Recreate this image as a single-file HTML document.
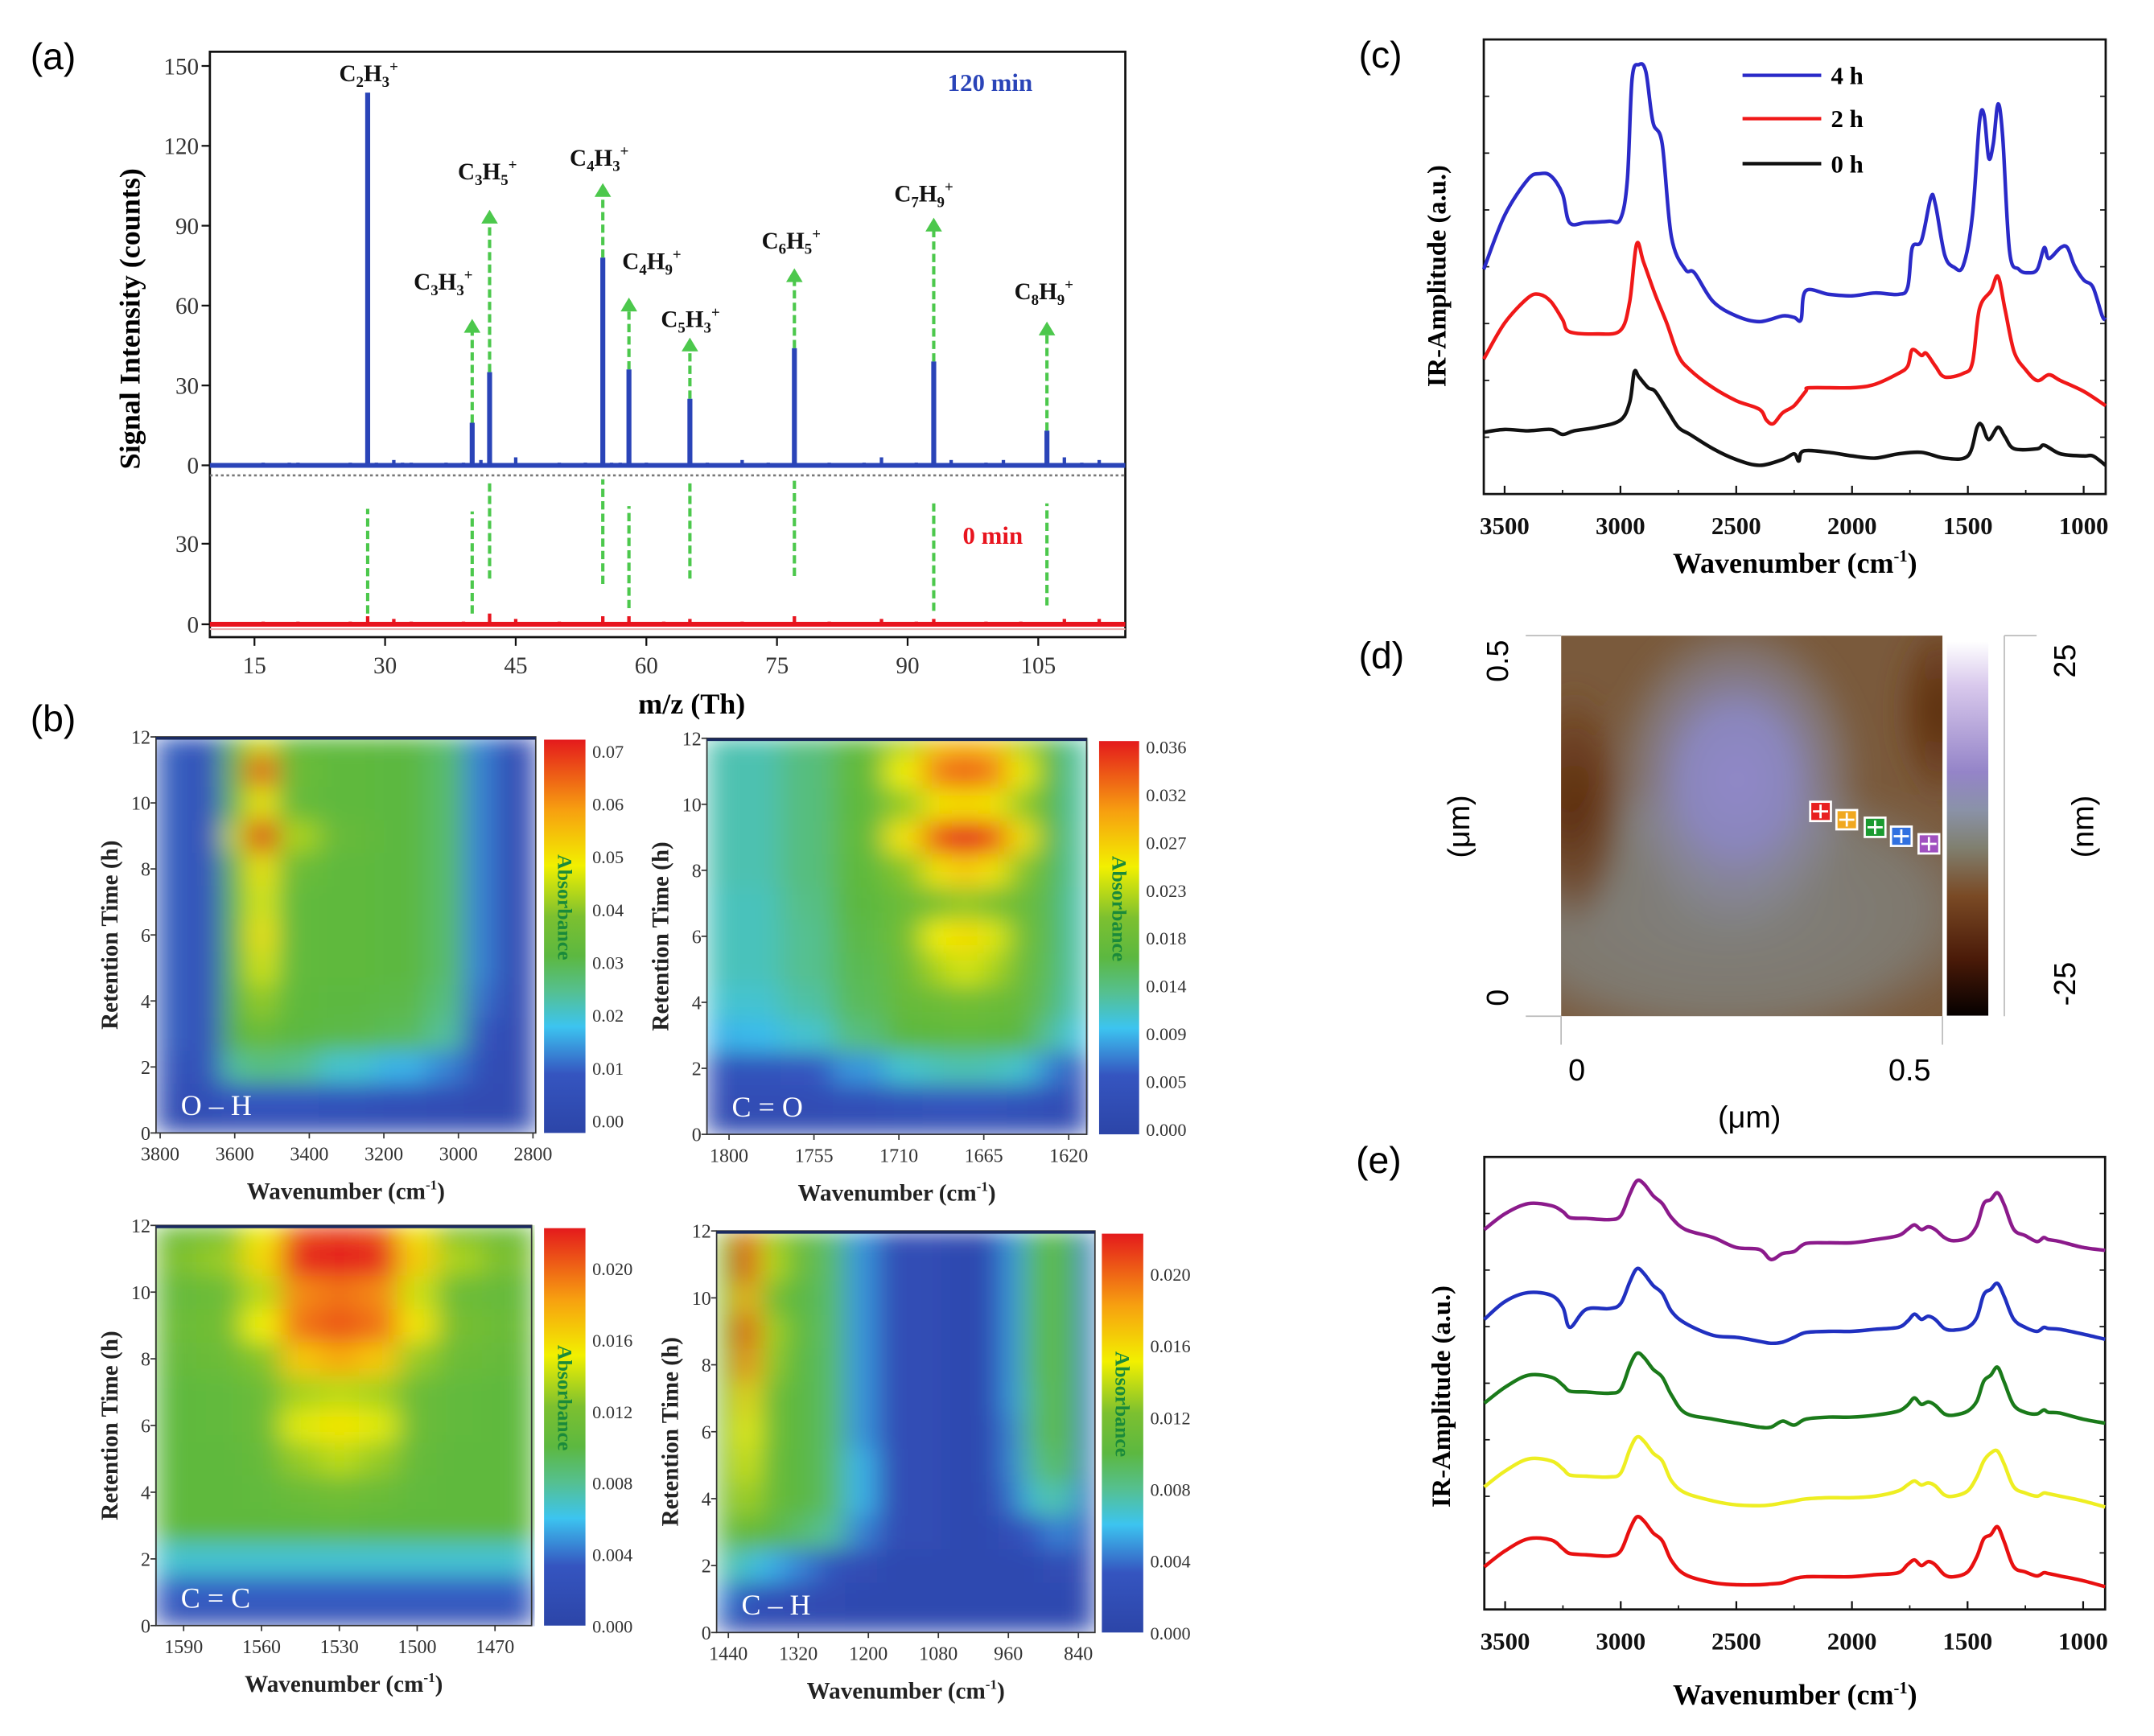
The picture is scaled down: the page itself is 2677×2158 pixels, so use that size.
<!DOCTYPE html>
<html><head><meta charset="utf-8"><title>Figure</title>
<style>
html,body{margin:0;padding:0;background:#fff;}
svg{display:block;}
.serif{font-family:"Liberation Serif",serif;}
.sans{font-family:"Liberation Sans",sans-serif;}
.b{font-weight:bold;}
</style></head>
<body>
<svg id="fig" xmlns="http://www.w3.org/2000/svg" width="2677" height="2158" viewBox="0 0 1560 1258" preserveAspectRatio="none">
<defs>
  <filter id="hblur" x="0" y="0" width="1" height="1" filterUnits="objectBoundingBox">
    <feGaussianBlur stdDeviation="10 8" edgeMode="duplicate"/>
  </filter>
  <linearGradient id="jet" x1="0" y1="1" x2="0" y2="0">
    <stop offset="0" stop-color="#2c45a8"/><stop offset="0.15" stop-color="#3555c0"/>
    <stop offset="0.27" stop-color="#3cc4f0"/><stop offset="0.36" stop-color="#55c090"/>
    <stop offset="0.45" stop-color="#5cb840"/><stop offset="0.55" stop-color="#7cc030"/>
    <stop offset="0.68" stop-color="#f2f000"/><stop offset="0.82" stop-color="#f7a010"/>
    <stop offset="1" stop-color="#e41a1c"/>
  </linearGradient>
  <linearGradient id="afm" x1="0" y1="0" x2="0" y2="1">
    <stop offset="0" stop-color="#ffffff"/><stop offset="0.12" stop-color="#d8c8ec"/>
    <stop offset="0.35" stop-color="#9484c8"/><stop offset="0.45" stop-color="#8a92a8"/>
    <stop offset="0.55" stop-color="#808070"/><stop offset="0.68" stop-color="#7a4a25"/>
    <stop offset="0.85" stop-color="#4a1a08"/><stop offset="1" stop-color="#050000"/>
  </linearGradient>
  <radialGradient id="blob" cx="0.5" cy="0.5" r="0.5">
    <stop offset="0" stop-color="#9088c8"/><stop offset="0.4" stop-color="#8a86bc"/>
    <stop offset="0.75" stop-color="#88889a" stop-opacity="0.55"/><stop offset="1" stop-color="#808080" stop-opacity="0"/>
  </radialGradient>
  <radialGradient id="dark" cx="0.5" cy="0.5" r="0.5">
    <stop offset="0" stop-color="#5a2a0e"/><stop offset="0.6" stop-color="#6a3a18" stop-opacity="0.7"/><stop offset="1" stop-color="#6e4020" stop-opacity="0"/>
  </radialGradient>
  <radialGradient id="gray" cx="0.5" cy="0.5" r="0.5">
    <stop offset="0" stop-color="#80807e"/><stop offset="0.7" stop-color="#80807a" stop-opacity="0.8"/><stop offset="1" stop-color="#808080" stop-opacity="0"/>
  </radialGradient>
  <filter id="soft"><feGaussianBlur stdDeviation="8"/></filter>
</defs>

<text class="sans" x="22" y="50" font-size="27">(a)</text>
<text class="sans" x="22" y="530" font-size="27">(b)</text>
<text class="sans" x="984" y="49" font-size="27">(c)</text>
<text class="sans" x="984" y="484" font-size="27">(d)</text>
<text class="sans" x="982" y="850" font-size="27">(e)</text>

<g id="pa">
  <rect x="152" y="37.5" width="663" height="424.2" fill="none" stroke="#111" stroke-width="1.6"/>
  <text class="serif b" font-size="21" transform="translate(101,231) rotate(-90)" text-anchor="middle">Signal Intensity (counts)</text>
  <text class="serif b" font-size="21" x="501" y="517" text-anchor="middle">m/z (Th)</text>
  <text class="serif b" font-size="18" fill="#2a44b8" x="717" y="66" text-anchor="middle">120 min</text>
  <text class="serif b" font-size="18" fill="#e8141e" x="719" y="394" text-anchor="middle">0 min</text>
  <g class="serif b" font-size="17" text-anchor="middle" fill="#111">
    <text x="267" y="59">C<tspan font-size="11" dy="4">2</tspan><tspan dy="-4">H</tspan><tspan font-size="11" dy="4">3</tspan><tspan font-size="11" dy="-11">+</tspan></text>
    <text x="321" y="210">C<tspan font-size="11" dy="4">3</tspan><tspan dy="-4">H</tspan><tspan font-size="11" dy="4">3</tspan><tspan font-size="11" dy="-11">+</tspan></text>
    <text x="353" y="130">C<tspan font-size="11" dy="4">3</tspan><tspan dy="-4">H</tspan><tspan font-size="11" dy="4">5</tspan><tspan font-size="11" dy="-11">+</tspan></text>
    <text x="434" y="120">C<tspan font-size="11" dy="4">4</tspan><tspan dy="-4">H</tspan><tspan font-size="11" dy="4">3</tspan><tspan font-size="11" dy="-11">+</tspan></text>
    <text x="472" y="195">C<tspan font-size="11" dy="4">4</tspan><tspan dy="-4">H</tspan><tspan font-size="11" dy="4">9</tspan><tspan font-size="11" dy="-11">+</tspan></text>
    <text x="500" y="237">C<tspan font-size="11" dy="4">5</tspan><tspan dy="-4">H</tspan><tspan font-size="11" dy="4">3</tspan><tspan font-size="11" dy="-11">+</tspan></text>
    <text x="573" y="180">C<tspan font-size="11" dy="4">6</tspan><tspan dy="-4">H</tspan><tspan font-size="11" dy="4">5</tspan><tspan font-size="11" dy="-11">+</tspan></text>
    <text x="669" y="146">C<tspan font-size="11" dy="4">7</tspan><tspan dy="-4">H</tspan><tspan font-size="11" dy="4">9</tspan><tspan font-size="11" dy="-11">+</tspan></text>
    <text x="756" y="217">C<tspan font-size="11" dy="4">8</tspan><tspan dy="-4">H</tspan><tspan font-size="11" dy="4">9</tspan><tspan font-size="11" dy="-11">+</tspan></text>
  </g>
</g>

<g id="pb"></g>

<g id="pc">
  <rect x="1074.6" y="28.6" width="450.4" height="329.4" fill="none" stroke="#111" stroke-width="1.6"/>
  <text class="serif b" font-size="19" transform="translate(1047,200) rotate(-90)" text-anchor="middle">IR-Amplitude (a.u.)</text>
  <text class="serif b" font-size="21" x="1300" y="415" text-anchor="middle">Wavenumber (cm<tspan font-size="12" dy="-8">-1</tspan><tspan dy="8">)</tspan></text>
  <g class="serif b" font-size="18">
    <line x1="1262" y1="54.6" x2="1319" y2="54.6" stroke="#2a2ac8" stroke-width="2.5"/>
    <text x="1326" y="61">4 h</text>
    <line x1="1262" y1="86" x2="1319" y2="86" stroke="#f01818" stroke-width="2.5"/>
    <text x="1326" y="92">2 h</text>
    <line x1="1262" y1="118.6" x2="1319" y2="118.6" stroke="#111" stroke-width="2.5"/>
    <text x="1326" y="125">0 h</text>
  </g>
</g>

<g id="pd" class="sans">
  <clipPath id="dclip"><rect x="1130.6" y="460.6" width="276.2" height="275.8"/></clipPath>
  <g clip-path="url(#dclip)">
    <rect x="1130.6" y="460.6" width="276.2" height="275.8" fill="#7a5a3c"/>
    <g filter="url(#soft)">
      <ellipse cx="1250" cy="660" rx="200" ry="100" fill="url(#gray)"/>
      <ellipse cx="1140" cy="585" rx="40" ry="90" fill="url(#dark)"/>
      <ellipse cx="1405" cy="515" rx="35" ry="70" fill="url(#dark)"/>
      <ellipse cx="1258" cy="565" rx="95" ry="120" fill="url(#blob)"/>
    </g>
  </g>
  <rect x="1410" y="464.7" width="30" height="271.3" fill="url(#afm)"/>
  <line x1="1451.6" y1="460.6" x2="1451.6" y2="736.4" stroke="#bbb" stroke-width="1"/>
  <line x1="1451.6" y1="460.6" x2="1475" y2="460.6" stroke="#bbb" stroke-width="1"/>
  <line x1="1105" y1="460.6" x2="1130.6" y2="460.6" stroke="#bbb" stroke-width="1"/>
  <line x1="1105" y1="736.4" x2="1130.6" y2="736.4" stroke="#bbb" stroke-width="1"/>
  <line x1="1130.6" y1="736.4" x2="1130.6" y2="757" stroke="#bbb" stroke-width="1"/>
  <line x1="1406.8" y1="736.4" x2="1406.8" y2="757" stroke="#bbb" stroke-width="1"/>
  <text font-size="22" transform="translate(1092,479) rotate(-90)" text-anchor="middle">0.5</text>
  <text font-size="22" transform="translate(1092,723) rotate(-90)" text-anchor="middle">0</text>
  <text font-size="22" transform="translate(1064,599) rotate(-90)" text-anchor="middle">(μm)</text>
  <text font-size="22" transform="translate(1503,479) rotate(-90)" text-anchor="middle">25</text>
  <text font-size="22" transform="translate(1503,713) rotate(-90)" text-anchor="middle">-25</text>
  <text font-size="22" transform="translate(1516,599) rotate(-90)" text-anchor="middle">(nm)</text>
  <text font-size="22" x="1142" y="783" text-anchor="middle">0</text>
  <text font-size="22" x="1383" y="783" text-anchor="middle">0.5</text>
  <text font-size="22" x="1267" y="817" text-anchor="middle">(μm)</text>
  <g stroke="#fff" stroke-width="1.6">
    <rect x="1311" y="581" width="15" height="14" fill="#e82020"/><path d="M1318.5 583v10M1313 588h11"/>
    <rect x="1330" y="587" width="15" height="14" fill="#f0a820"/><path d="M1337.5 589v10M1332 594h11"/>
    <rect x="1350.5" y="592.5" width="15" height="14" fill="#1a9a30"/><path d="M1358 594.5v10M1352.5 599.5h11"/>
    <rect x="1369.5" y="599" width="15" height="14" fill="#3070e0"/><path d="M1377 601v10M1371.5 606h11"/>
    <rect x="1389.5" y="604.5" width="15" height="14" fill="#a050c0"/><path d="M1397 606.5v10M1391.5 611.5h11"/>
  </g>
</g>

<g id="pe">
  <rect x="1075" y="838.4" width="449.6" height="327.9" fill="none" stroke="#111" stroke-width="1.6"/>
  <text class="serif b" font-size="19" transform="translate(1050,1012) rotate(-90)" text-anchor="middle">IR-Amplitude (a.u.)</text>
  <text class="serif b" font-size="21" x="1300" y="1235" text-anchor="middle">Wavenumber (cm<tspan font-size="12" dy="-8">-1</tspan><tspan dy="8">)</tspan></text>
</g>
</svg>

<script>
const NS = 'http://www.w3.org/2000/svg';
function mk(tag, attrs, parent){ const e=document.createElementNS(NS,tag); for(const k in attrs) e.setAttribute(k,attrs[k]); parent.appendChild(e); return e; }
function lin(d0,d1,r0,r1){ return v => r0+(v-d0)/(d1-d0)*(r1-r0); }

/* ================= PANEL A DATA ================= */
const mzPeaks = [28,40,42,55,58,65,77,93,106];
const counts120 = [140,16,35,78,36,25,44,39,13];
const arrowTop = [null,55,96,106,63,48,74,93,54];
const lowDashTop = [43,42,54,54,44,54,54,45,45];
const lowDashBot = [4,4,17,15,6,17,18,5,7];
const noiseMz120 = [16,19,20,26,29,31,32,33,37,39,41,45,50,53,56,57,60,67,71,74,81,85,87,91,95,99,101,108,110,112];
const noise120 = [1,1,1,1,1,2,1,1,1,1,2,3,1,1,1,1,1,1,2,1,1,1,3,1,2,1,2,3,1,2];
const noiseMz0 = [16,20,26,28,31,33,39,42,45,50,55,58,62,65,71,77,81,87,91,93,99,103,108,112];
const noise0 = [1,1,1,3,2,1,1,4,2,1,3,3,1,2,1,3,1,2,1,2,1,1,2,2];
const xTicksA = [15,30,45,60,75,90,105];
const yTicksUpper = [0,30,60,90,120,150];
const yTicksLower = [0,30];

const pa = document.getElementById('pa');
const xA = lin(9.88,115,152,815);
const yU = lin(0,150,337.2,47.8);
const yL = lin(0,30,452.4,394);

xTicksA.forEach(t=>{
  const tk = mk('line',{x1:xA(t),x2:xA(t),y1:461.7,y2:468,stroke:'#111','stroke-width':1.3},pa);
  
  
  const tl = mk('text',{x:xA(t),y:488,'text-anchor':'middle','font-size':17,class:'serif',fill:'#333'},pa);
  
  
  tl.textContent = t;
});
yTicksUpper.forEach(t=>{
  const tk = mk('line',{x1:146,x2:152,y1:yU(t),y2:yU(t),stroke:'#111','stroke-width':1.3},pa);
  
  
  const tl = mk('text',{x:144,y:yU(t)+6,'text-anchor':'end','font-size':17,class:'serif',fill:'#333'},pa);
  
  
  tl.textContent = t;
});
yTicksLower.forEach(t=>{
  const tk = mk('line',{x1:146,x2:152,y1:yL(t),y2:yL(t),stroke:'#111','stroke-width':1.3},pa);
  
  
  const tl = mk('text',{x:144,y:yL(t)+6,'text-anchor':'end','font-size':17,class:'serif',fill:'#333'},pa);
  
  
  tl.textContent = t;
});
const sep = mk('line',{x1:152,x2:815,y1:344.5,y2:344.5,stroke:'#777','stroke-width':1.5,'stroke-dasharray':'2 2'},pa);


const redUnder = mk('line',{x1:152,x2:815,y1:yL(0)+3.5,y2:yL(0)+3.5,stroke:'#e9b0b0','stroke-width':1.2},pa);


const base120 = mk('line',{x1:152,x2:815,y1:yU(0),y2:yU(0),stroke:'#2a44b8','stroke-width':3.5},pa);


const base0 = mk('line',{x1:152,x2:815,y1:yL(0),y2:yL(0),stroke:'#e8141e','stroke-width':3.5},pa);


noiseMz120.forEach((m,i)=>{
  const n = mk('line',{x1:xA(m),x2:xA(m),y1:yU(0),y2:yU(noise120[i]),stroke:'#2a44b8','stroke-width':2.5},pa);
  
  
});
noiseMz0.forEach((m,i)=>{
  const n = mk('line',{x1:xA(m),x2:xA(m),y1:yL(0),y2:yL(noise0[i]),stroke:'#e8141e','stroke-width':2.5},pa);
  
  
});
mzPeaks.forEach((m,i)=>{
  const x = xA(m);
  const low = mk('line',{x1:x,x2:x,y1:yL(lowDashBot[i]),y2:yL(lowDashTop[i]),stroke:'#4cc84c','stroke-width':2.4,'stroke-dasharray':'6 3'},pa);
  
  
  if(arrowTop[i]!==null){
    const tip = yU(arrowTop[i]);
    const up = mk('line',{x1:x,x2:x,y1:yU(counts120[i]),y2:tip+8,stroke:'#4cc84c','stroke-width':2.4,'stroke-dasharray':'6 3'},pa);
    
    
    const head = mk('path',{d:`M${x-6} ${tip+10} L${x} ${tip} L${x+6} ${tip+10} Z`,fill:'#4cc84c'},pa);
    
    
  }
  const bar = mk('line',{x1:x,x2:x,y1:yU(0),y2:yU(counts120[i]),stroke:'#2a44b8','stroke-width':3.6},pa);
  
  
});

/* ================= PANEL B DATA ================= */
const timesB = [0,1,2,3,4,5,6,7,8,9,10,11,12];
const ohCols = [3790,3760,3720,3670,3600,3530,3450,3300,3150,3020,2950,2850];
const ohVals = [
 [.05,.05,.05,.05,.05,.05,.05,.05,.05,.05,.05,.05],
 [.06,.12,.06,.1,.15,.15,.15,.12,.1,.08,.06,.06],
 [.06,.16,.06,.14,.35,.38,.36,.3,.25,.2,.1,.06],
 [.06,.18,.06,.15,.45,.5,.45,.44,.42,.35,.15,.06],
 [.06,.18,.06,.15,.46,.58,.46,.45,.44,.38,.18,.07],
 [.06,.18,.06,.15,.46,.65,.47,.46,.45,.4,.2,.07],
 [.06,.18,.06,.15,.47,.7,.47,.46,.45,.4,.2,.07],
 [.06,.18,.06,.15,.47,.66,.47,.46,.45,.4,.2,.07],
 [.06,.18,.06,.15,.5,.7,.5,.46,.45,.4,.2,.07],
 [.06,.18,.06,.15,.62,1.0,.6,.48,.45,.4,.2,.07],
 [.06,.18,.06,.15,.5,.7,.48,.46,.45,.4,.2,.07],
 [.06,.18,.06,.15,.52,.9,.5,.46,.45,.4,.2,.07],
 [.06,.18,.06,.15,.48,.65,.47,.46,.45,.4,.2,.07]];
const coCols = [1805,1785,1760,1730,1705,1690,1675,1660,1645,1630,1615];
const coVals = [
 [.05,.05,.05,.05,.05,.05,.05,.05,.05,.05,.05],
 [.08,.08,.08,.1,.12,.14,.15,.14,.12,.1,.08],
 [.12,.12,.15,.22,.3,.32,.33,.32,.3,.2,.12],
 [.25,.26,.3,.38,.45,.46,.47,.46,.45,.35,.28],
 [.3,.3,.34,.42,.48,.5,.52,.5,.48,.4,.32],
 [.32,.32,.36,.43,.5,.6,.65,.6,.5,.42,.33],
 [.32,.32,.36,.44,.52,.68,.72,.66,.52,.43,.33],
 [.32,.32,.37,.45,.5,.55,.58,.55,.5,.43,.33],
 [.33,.33,.38,.46,.56,.7,.75,.7,.56,.44,.34],
 [.33,.33,.38,.47,.7,.92,1.0,.92,.7,.48,.34],
 [.33,.33,.38,.46,.58,.7,.72,.7,.58,.45,.34],
 [.33,.33,.38,.47,.68,.86,.9,.86,.68,.48,.34],
 [.33,.33,.38,.46,.6,.75,.78,.75,.6,.45,.34]];
const ccCols = [1595,1575,1560,1545,1530,1515,1500,1485,1465];
const ccVals = [
 [.06,.06,.06,.06,.06,.06,.06,.06,.06],
 [.16,.16,.16,.16,.16,.16,.16,.16,.16],
 [.3,.3,.3,.3,.3,.3,.3,.3,.3],
 [.46,.46,.46,.46,.47,.46,.46,.46,.46],
 [.46,.46,.47,.5,.52,.5,.47,.46,.46],
 [.46,.46,.48,.58,.62,.58,.48,.46,.46],
 [.46,.47,.5,.66,.7,.66,.5,.47,.46],
 [.46,.47,.5,.6,.62,.6,.5,.47,.46],
 [.48,.5,.56,.75,.8,.75,.58,.5,.48],
 [.5,.52,.68,.88,.92,.88,.7,.53,.5],
 [.48,.5,.62,.85,.88,.85,.64,.5,.48],
 [.55,.58,.72,.98,1.0,.98,.74,.6,.55],
 [.5,.52,.68,.92,.95,.92,.7,.55,.5]];
const chCols = [1450,1410,1370,1320,1260,1220,1150,1000,950,920,880,850,830,815];
const chVals = [
 [.05,.05,.05,.05,.05,.05,.05,.05,.05,.05,.05,.05,.05,.05],
 [.2,.12,.1,.08,.06,.05,.05,.05,.05,.05,.05,.05,.05,.05],
 [.35,.3,.25,.2,.12,.08,.05,.05,.05,.05,.08,.1,.06,.05],
 [.45,.5,.45,.4,.35,.2,.08,.05,.1,.15,.2,.2,.1,.05],
 [.5,.6,.5,.45,.4,.25,.08,.05,.18,.3,.35,.3,.15,.05],
 [.5,.65,.5,.45,.4,.25,.08,.05,.2,.35,.42,.4,.2,.05],
 [.5,.68,.52,.45,.4,.22,.08,.05,.2,.38,.45,.42,.2,.05],
 [.5,.72,.52,.45,.4,.22,.08,.05,.22,.38,.45,.42,.2,.05],
 [.52,.85,.58,.45,.4,.22,.08,.05,.22,.4,.45,.42,.2,.05],
 [.55,.95,.6,.47,.4,.22,.08,.05,.22,.4,.45,.42,.2,.05],
 [.52,.8,.55,.45,.4,.22,.08,.05,.22,.4,.45,.42,.2,.05],
 [.55,1.0,.62,.5,.4,.22,.08,.05,.22,.4,.45,.42,.2,.05],
 [.55,.92,.6,.5,.4,.22,.08,.05,.22,.4,.45,.42,.2,.05]];
const ohXTicks = [3800,3600,3400,3200,3000,2800];
const coXTicks = [1800,1755,1710,1665,1620];
const ccXTicks = [1590,1560,1530,1500,1470];
const chXTicks = [1440,1320,1200,1080,960,840];
const timeTicks = [0,2,4,6,8,10,12];
const ohCbarLabels = ['0.00','0.01','0.02','0.03','0.04','0.05','0.06','0.07'];
const coCbarLabels = ['0.000','0.005','0.009','0.014','0.018','0.023','0.027','0.032','0.036'];
const ccCbarLabels = ['0.000','0.004','0.008','0.012','0.016','0.020'];
const chCbarLabels = ['0.000','0.004','0.008','0.012','0.016','0.020'];

const cstops = [[0,[44,69,168]],[0.15,[53,85,192]],[0.27,[60,196,240]],[0.36,[85,192,144]],[0.45,[92,184,64]],[0.55,[124,192,48]],[0.68,[242,240,0]],[0.82,[247,160,16]],[1,[228,26,28]]];
function cmap(v){
  v=Math.max(0,Math.min(1,v));
  for(let i=1;i<cstops.length;i++){
    if(v<=cstops[i][0]){
      const a=cstops[i-1],b=cstops[i],f=(v-a[0])/(b[0]-a[0]);
      return `rgb(${a[1].map((c,j)=>Math.round(c+(b[1][j]-c)*f)).join(',')})`;
    }
  }
  return 'rgb(228,26,28)';
}
const pb = document.getElementById('pb');
function heatPanel(cfg){
  const g = mk('g',{},pb);
  
  
  const sx = lin(cfg.t0,cfg.t1,cfg.p0,cfg.p1);
  const sy = lin(0,12,cfg.yb,cfg.yt);
  const cells = mk('g',{filter:'url(#hblur)'},g);
  
  
  const cols = cfg.cols;
  const bounds = [cfg.e0];
  for(let i=1;i<cols.length;i++) bounds.push((cols[i-1]+cols[i])/2);
  bounds.push(cfg.e1);
  timesB.forEach((t,r)=>{
    const ta = Math.max(0,t-0.5), tb = Math.min(12,t+0.5);
    cols.forEach((c,k)=>{
      const xa = sx(bounds[k]), xb = sx(bounds[k+1]);
      const cell = mk('rect',{x:Math.min(xa,xb),y:sy(tb),width:Math.abs(xb-xa)+0.3,height:sy(ta)-sy(tb)+0.3,fill:cmap(cfg.vals[r][k])},cells);
      
      
    });
  });
  const fr = mk('rect',{x:cfg.p0x,y:cfg.yt,width:cfg.p1x-cfg.p0x,height:cfg.yb-cfg.yt,fill:'none',stroke:'#333','stroke-width':1},g);
  
  
  const topl = mk('line',{x1:cfg.p0x,x2:cfg.p1x,y1:cfg.yt+1,y2:cfg.yt+1,stroke:'#1a2a60','stroke-width':2},g);
  
  
  cfg.xt.forEach(t=>{
    const tk = mk('line',{x1:sx(t),x2:sx(t),y1:cfg.yb,y2:cfg.yb+4,stroke:'#333'},g);
    
    
    const tl = mk('text',{x:sx(t),y:cfg.yb+20,'text-anchor':'middle','font-size':14,class:'serif',fill:'#333'},g);
    
    
    tl.textContent = t;
  });
  timeTicks.forEach(t=>{
    const tk = mk('line',{x1:cfg.p0x-4,x2:cfg.p0x,y1:sy(t),y2:sy(t),stroke:'#333'},g);
    
    
    const tl = mk('text',{x:cfg.p0x-4,y:sy(t)+5,'text-anchor':'end','font-size':14,class:'serif',fill:'#333'},g);
    
    
    tl.textContent = t;
  });
  const cb = mk('rect',{x:cfg.cx,y:cfg.yt+2,width:cfg.cw,height:cfg.yb-cfg.yt-2,fill:'url(#jet)'},g);
  
  
  cfg.cl.forEach((s,i)=>{
    const y = cfg.lb + (cfg.lt-cfg.lb)*i/(cfg.cl.length-1);
    const tl = mk('text',{x:cfg.cx+cfg.cw+5,y:y+5,'font-size':13,class:'serif',fill:'#333'},g);
    
    
    tl.textContent = s;
  });
  const ab = mk('text',{transform:`translate(${cfg.cx+cfg.cw/2-5},${(cfg.yt+cfg.yb)/2-20}) rotate(90)`,'text-anchor':'middle','font-size':15,class:'serif b',fill:'#1a8a3a'},g);
  
  
  ab.textContent = 'Absorbance';
  const yt = mk('text',{transform:`translate(${cfg.p0x-28},${(cfg.yt+cfg.yb)/2}) rotate(-90)`,'text-anchor':'middle','font-size':17,class:'serif b',fill:'#222'},g);
  
  
  yt.textContent = 'Retention Time (h)';
  const xt = mk('text',{x:(cfg.p0x+cfg.p1x)/2,y:cfg.yb+48,'text-anchor':'middle','font-size':17,class:'serif b',fill:'#222'},g);
  
  
  xt.textContent = 'Wavenumber (cm';
  const sup = mk('tspan',{'font-size':10,dy:-7},xt);
  sup.textContent = '-1';
  const cl = mk('tspan',{dy:7},xt);
  cl.textContent = ')';
  const bl = mk('text',{x:cfg.p0x+18,y:cfg.yb-13,'font-size':21,class:'serif',fill:'#fff'},g);
  
  
  bl.textContent = cfg.bond;
}
heatPanel({name:'heatmap-oh',cols:ohCols,vals:ohVals,t0:3800,t1:2800,p0:116,p1:386,e0:3811,e1:2793,p0x:113,p1x:388,yt:534,yb:821,xt:ohXTicks,cx:394,cw:30,cl:ohCbarLabels,lb:812,lt:544,bond:'O – H'});
heatPanel({name:'heatmap-co',cols:coCols,vals:coVals,t0:1800,t1:1620,p0:528,p1:774,e0:1812,e1:1610,p0x:512,p1x:787,yt:535,yb:822,xt:coXTicks,cx:796,cw:29,cl:coCbarLabels,lb:818,lt:541,bond:'C = O'});
heatPanel({name:'heatmap-cc',cols:ccCols,vals:ccVals,t0:1590,t1:1470,p0:133,p1:358.5,e0:1601,e1:1455,p0x:113,p1x:385,yt:888,yb:1178,xt:ccXTicks,cx:394,cw:30,cl:ccCbarLabels,lb:1178,lt:919,bond:'C = C'});
heatPanel({name:'heatmap-ch',cols:chCols,vals:chVals,t0:1440,t1:840,p0:527.5,p1:781,e0:1460,e1:812,p0x:519,p1x:793,yt:892,yb:1183,xt:chXTicks,cx:798,cw:30,cl:chCbarLabels,lb:1183,lt:923,bond:'C – H'});

/* ================= PANEL C DATA ================= */
const wn4h = [3590,3500,3400,3350,3300,3250,3220,3150,3050,3000,2970,2950,2920,2890,2860,2820,2780,2720,2680,2600,2500,2400,2300,2250,2220,2200,2100,2000,1900,1800,1760,1740,1700,1660,1640,1600,1560,1520,1480,1450,1430,1410,1390,1370,1350,1320,1280,1240,1200,1170,1150,1100,1070,1040,1000,960,920,905];
const amp4h = [32.5,40,45,45.8,45.5,43,39,39,39.2,39.5,45,59,61,60,53,50,37,32.5,32,28,26,25.2,26,25.8,25.5,29.5,29,28.8,29.2,29,30,35.5,36.5,42.5,41.5,34.5,32.8,33,40,53,54,48,50,55.5,51,35,32.5,32,32.5,35.5,34,35.5,35.5,33,31,30,26,25.5];
const wn2h = [3590,3500,3400,3350,3300,3250,3220,3100,3000,2960,2930,2900,2850,2800,2750,2700,2600,2500,2400,2370,2340,2300,2250,2200,2180,2000,1900,1800,1760,1740,1700,1680,1640,1600,1520,1480,1450,1400,1370,1340,1300,1250,1200,1150,1100,1000,905];
const amp2h = [20,25,28.5,29,28,25.5,23.8,23.5,24,28,36,33.5,29,25,20.5,18.5,16,14.2,13,11.5,11,12.5,13.5,15.5,16,16,16.5,18,19,21.3,20.5,20.8,19,17.5,18,19.5,27,29.5,31.5,27,21,18.5,17,17.8,17,15.5,13.5];
const wn0h = [3590,3500,3400,3300,3250,3200,3100,3000,2960,2940,2920,2880,2850,2800,2750,2700,2600,2500,2400,2300,2250,2230,2210,2100,2000,1900,1800,1700,1600,1500,1460,1440,1410,1370,1340,1300,1200,1170,1100,1000,960,905];
const amp0h = [9.8,10.2,10,10.2,9.5,10,10.5,11.5,14,18.2,17.5,16,15.5,13,10.5,9.5,7.5,6,5.2,6,6.8,5.8,7.2,7,6.5,6.2,6.8,7,6.2,6.5,10.5,10.8,8.8,10.5,9.2,7.5,7.5,8,6.8,6.5,6.5,5.2];
const wnTicks = [3500,3000,2500,2000,1500,1000];
const wnMinor = [3250,2750,2250,1750,1250];

function drawSpectrumAxes(g, sx, yb, yt, x0, x1){
  wnTicks.forEach(t=>{
    const tk = mk('line',{x1:sx(t),x2:sx(t),y1:yb,y2:yb-6,stroke:'#111','stroke-width':1.3},g);
    
    
    const tl = mk('text',{x:sx(t),y:yb+29,'text-anchor':'middle','font-size':18,class:'serif b',fill:'#111'},g);
    
    
    tl.textContent = t;
  });
  wnMinor.forEach(t=>{
    const tk = mk('line',{x1:sx(t),x2:sx(t),y1:yb,y2:yb-3,stroke:'#111','stroke-width':1},g);
    
    
  });
  for(let i=1;i<8;i++){
    const y = yb-(yb-yt)*i/8;
    const l = mk('line',{x1:x0,x2:x0+4,y1:y,y2:y,stroke:'#111','stroke-width':1},g);
    
    
    const r = mk('line',{x1:x1-4,x2:x1,y1:y,y2:y,stroke:'#111','stroke-width':1},g);
    
    
  }
}
function drawLine(g, sx, sy, xs, ys, color, name){
  const P = xs.map((x,i)=>[sx(x),sy(ys[i])]);
  let d = `M${P[0][0].toFixed(1)} ${P[0][1].toFixed(1)}`;
  for(let i=0;i<P.length-1;i++){
    const p0=P[Math.max(0,i-1)], p1=P[i], p2=P[i+1], p3=P[Math.min(P.length-1,i+2)];
    const c1x=p1[0]+(p2[0]-p0[0])/6, c1y=p1[1]+(p2[1]-p0[1])/6;
    const c2x=p2[0]-(p3[0]-p1[0])/6, c2y=p2[1]-(p3[1]-p1[1])/6;
    d += ` C${c1x.toFixed(1)} ${c1y.toFixed(1)} ${c2x.toFixed(1)} ${c2y.toFixed(1)} ${p2[0].toFixed(1)} ${p2[1].toFixed(1)}`;
  }
  const p = mk('path',{d:d,fill:'none',stroke:color,'stroke-width':2.6,'stroke-linejoin':'round'},g);
  
  
}
const pc = document.getElementById('pc');
const xC = lin(3590,905,1074.6,1525);
const yC = lin(1.2,64.5,358,28.6);
drawSpectrumAxes(pc,xC,358,28.6,1074.6,1525);
drawLine(pc,xC,yC,wn0h,amp0h,'#111','series-0h');
drawLine(pc,xC,yC,wn2h,amp2h,'#f01818','series-2h');
drawLine(pc,xC,yC,wn4h,amp4h,'#2a2ac8','series-4h');

/* ================= PANEL E DATA ================= */
const wnE = [3590,3500,3400,3300,3250,3220,3150,3050,3000,2960,2930,2900,2860,2820,2780,2720,2600,2500,2400,2350,2300,2250,2200,2100,2000,1900,1800,1760,1730,1700,1670,1640,1600,1560,1500,1460,1430,1400,1370,1340,1300,1250,1200,1170,1150,1100,1000,905];
const ampPurple = [100,104,106.5,106,104.5,103,102.8,102.5,103.5,109,112.2,111.5,108.5,106.5,103,100,98,95.5,95,92.5,94,94.5,96.5,96.7,96.7,97.5,98.5,100,101.2,100,100.7,100,98,97.2,98,101,106.5,107.5,109.2,106,100,98.5,97,98,97.5,97,95.5,94.8];
const ampBlue = [77.5,82,84.2,83.5,80.5,75.5,80,80.2,81.5,87,90.2,89,86,84,79.5,76.5,73.5,73,72,71.5,71.8,73,74.2,74.5,74.5,75,75.5,77,78.8,77.5,78.3,77.5,75.2,74.8,75.5,78,83.7,85,86.5,83,77.5,75.5,74.5,75.5,75.2,75,73.8,72.5];
const ampGreen = [56.5,60.5,63.5,63,61,59.5,59.3,59,60,66,69,68,65,63,58.5,54,52.5,51.5,50.5,50.5,52,51,52.5,53,53,53.5,54.5,56,57.8,56.2,56.8,56,53.8,53.5,54.5,57,62,63.5,65.5,61.5,56,54.2,53.8,54.8,54.2,54,52.5,51.5];
const ampYellow = [35.5,39.5,42.5,42,40,38.5,38.2,38,39,45,48,47,44,42,37,34,32,31,30.8,31,31.5,32,32.5,32.8,32.8,33.2,34.5,36,37,36,36.5,35.8,33.5,33.2,34.5,38,42,44,44.5,41,35.5,34,33.2,34,33.8,33.2,32,30.5];
const ampRed = [15.5,19.5,22.5,22.2,20,18.8,18.5,18.2,19.5,25,28,27,24,22,17,13.5,11.5,11,11,11.2,11.5,12.5,13,13,13,13.5,14,16,17.2,15.8,16.8,16,13.5,13,14.2,18,22.5,23.5,25.5,21.5,15.5,14.2,13.2,14,13.8,13.2,12,10.5];
const pe = document.getElementById('pe');
const xE = lin(3590,905,1075,1524.6);
const yE = lin(4.8,118.2,1166.3,838.4);
drawSpectrumAxes(pe,xE,1166.3,838.4,1075,1524.6);
drawLine(pe,xE,yE,wnE,ampRed,'#e81010','series-red-point');
drawLine(pe,xE,yE,wnE,ampYellow,'#eeee22','series-yellow-point');
drawLine(pe,xE,yE,wnE,ampGreen,'#1a7a1a','series-green-point');
drawLine(pe,xE,yE,wnE,ampBlue,'#2030c0','series-blue-point');
drawLine(pe,xE,yE,wnE,ampPurple,'#8b1a8b','series-purple-point');
</script>
</body></html>
